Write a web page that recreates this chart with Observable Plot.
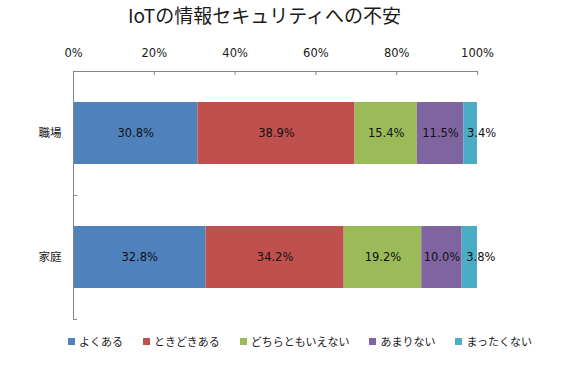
<!DOCTYPE html>
<html>
<head>
<meta charset="utf-8">
<script src="https://cdn.jsdelivr.net/npm/d3@7"></script>
<script src="https://cdn.jsdelivr.net/npm/@observablehq/plot@0.6"></script>
<style>
  body { margin: 0; background: #fff; font-family: "Noto Sans CJK JP", "Noto Sans", sans-serif; }
  #wrap { position: relative; width: 563px; height: 379px; overflow: hidden; }
  #title { position: absolute; left: 0; top: 0; width: 529px; height: 30px; line-height: 30px; text-align: center; font-size: 19px; color: #1a1a1a; }
  #chart { position: absolute; left: 0; top: 30px; }
  #legend { position: absolute; left: 68px; top: 330px; height: 22px; display: flex; align-items: center; font-size: 11px; color: #1a1a1a; }
  .item { display: flex; align-items: center; margin-right: 20px; }
  .sw { width: 7px; height: 7px; margin-right: 4px; }
</style>
</head>
<body>
<div id="wrap">
  <div id="title">IoTの情報セキュリティへの不安</div>
  <div id="chart"></div>
  <div id="legend"></div>
</div>
<script>
const categories = ["職場", "家庭"];
const seriesNames = ["よくある", "ときどきある", "どちらともいえない", "あまりない", "まったくない"];
const seriesColors = ["#4F81BD", "#C0504D", "#9BBB59", "#8064A2", "#4BACC6"];
const values = {
  "職場": [30.8, 38.9, 15.4, 11.5, 3.4],
  "家庭": [32.8, 34.2, 19.2, 10.0, 3.8]
};
const xTicks = [0, 20, 40, 60, 80, 100];

// build segments
const segs = [];
categories.forEach((c, i) => {
  let acc = 0;
  values[c].forEach((v, j) => {
    segs.push({cat: c, i, series: seriesNames[j], j, value: v, x1: acc, x2: acc + v});
    acc += v;
  });
});

const numFont = '"DejaVu Sans", "Noto Sans CJK JP", sans-serif';
const axisColor = "#868686";
const labelOpts = (dx) => ({
  x: d => (d.x1 + d.x2) / 2, y: d => d.i + 0.5,
  text: d => d.value.toFixed(1) + "%",
  dx, fontSize: 11.5, fill: "#111", fontFamily: numFont
});
const chart = Plot.plot({
  width: 563,
  height: 300,
  marginTop: 41,
  marginBottom: 11,
  marginLeft: 73,
  marginRight: 86,
  style: {fontFamily: '"Noto Sans CJK JP", "Noto Sans", sans-serif', background: "transparent"},
  x: {domain: [0, 100], axis: null},
  y: {domain: [0, 2], reverse: true, axis: null},
  color: {domain: seriesNames, range: seriesColors},
  marks: [
    Plot.rectX(segs, {x1: "x1", x2: "x2", y1: d => d.i + 0.25, y2: d => d.i + 0.75, fill: "series"}),
    Plot.text(segs.filter(d => d.j < 4), labelOpts(0)),
    Plot.text(segs.filter(d => d.j === 4), labelOpts(11)),
    // top axis
    Plot.ruleY([0], {x1: 0, x2: 100, stroke: axisColor}),
    Plot.ruleX(xTicks, {x: d => d, y1: 0, y2: 0.033, stroke: axisColor}),
    Plot.text(xTicks, {x: d => d, y: 0, dy: -18, text: d => d + "%", fontSize: 11.5, fill: "#1a1a1a", fontFamily: numFont}),
    // left axis
    Plot.ruleX([0], {y1: 0, y2: 2, stroke: axisColor}),
    Plot.ruleY([0, 1, 2], {y: d => d, x1: 0, x2: 1, stroke: axisColor}),
    Plot.text(categories, {x: 0, y: (d, i) => i + 0.5, text: d => d, textAnchor: "end", dx: -12, fontSize: 11.5, fill: "#1a1a1a"})
  ]
});
document.getElementById("chart").appendChild(chart);

const legend = document.getElementById("legend");
seriesNames.forEach((s, j) => {
  const it = document.createElement("div");
  it.className = "item";
  const sw = document.createElement("span");
  sw.className = "sw";
  sw.style.background = seriesColors[j];
  const tx = document.createElement("span");
  tx.textContent = s;
  it.appendChild(sw); it.appendChild(tx);
  legend.appendChild(it);
});
</script>
</body>
</html>
